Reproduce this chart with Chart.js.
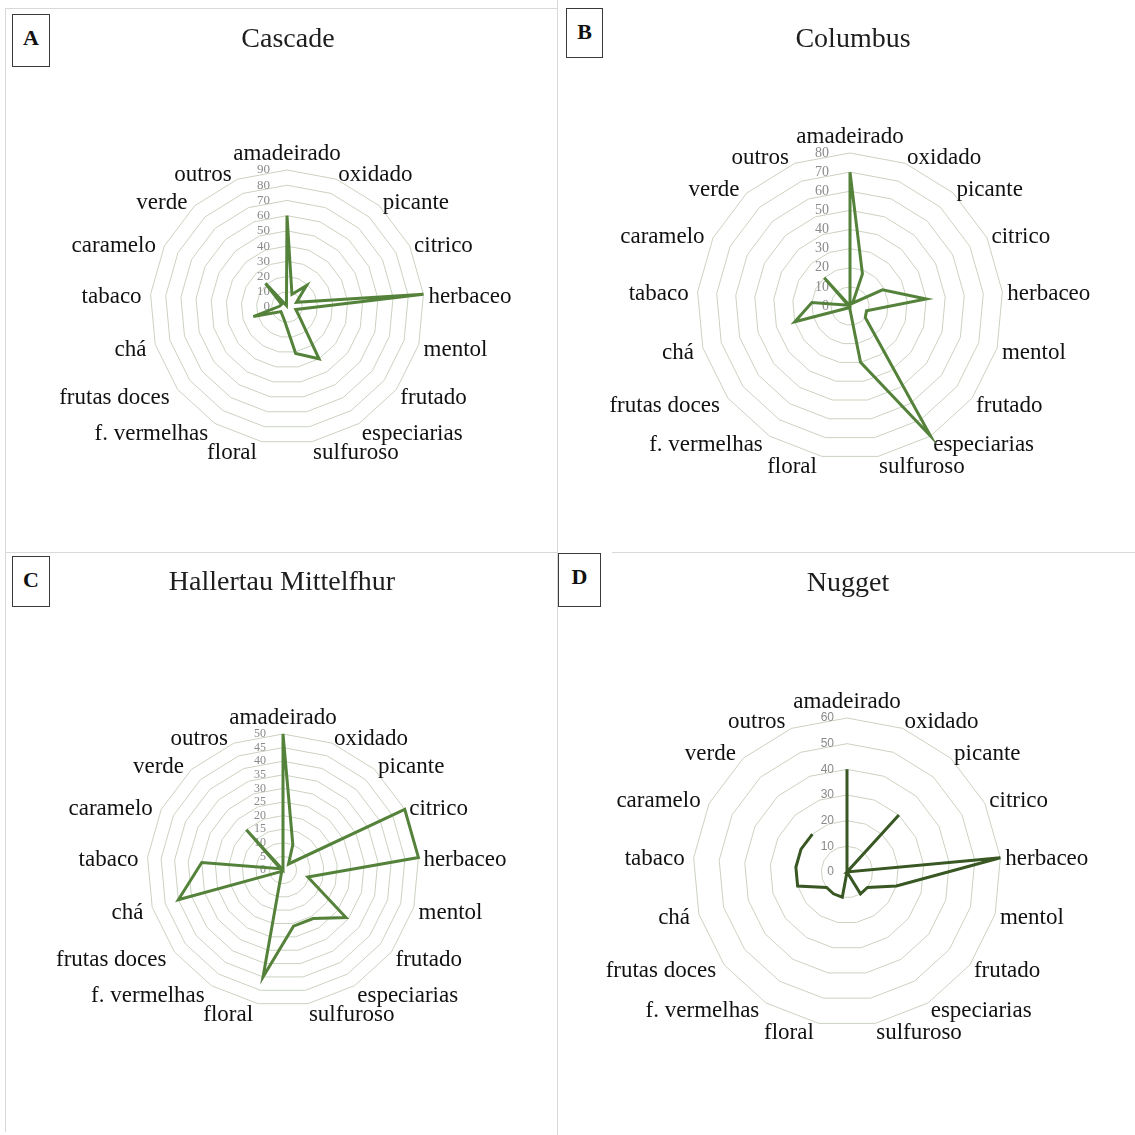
<!DOCTYPE html>
<html>
<head>
<meta charset="utf-8">
<title>Perfil aromático - lúpulos</title>
<script src="https://cdn.jsdelivr.net/npm/chart.js@4/dist/chart.umd.min.js"></script>
<style>
  body { margin: 0; width: 1135px; height: 1135px; background: #fff; position: relative; overflow: hidden; font-family: 'Liberation Serif', 'Times New Roman', serif; }
  canvas.radar { position: absolute; left: 0; top: 0; }
  .rule { position: absolute; background: #d9d9d9; }
  .tag { position: absolute; border: 1px solid #3a3a3a; box-sizing: border-box; font-weight: bold; font-size: 22px; text-align: center; padding-top: 10px; color: #111; background: #fff; }
  .title { position: absolute; font-size: 28px; transform: translate(-50%, -50%); white-space: nowrap; color: #1e1e1e; }
</style>
</head>
<body>
<div class="rule" style="left:5px; top:8px; width:552px; height:1px;"></div>
<div class="rule" style="left:5px; top:8px; width:1px; height:1124px;"></div>
<div class="rule" style="left:557px; top:0; width:1px; height:1135px;"></div>
<div class="rule" style="left:5px; top:552px; width:552px; height:1px;"></div>
<div class="rule" style="left:612px; top:552px; width:523px; height:1px;"></div>

<canvas class="radar" id="chartA" width="1135" height="1135"></canvas>
<canvas class="radar" id="chartB" width="1135" height="1135"></canvas>
<canvas class="radar" id="chartC" width="1135" height="1135"></canvas>
<canvas class="radar" id="chartD" width="1135" height="1135"></canvas>

<div class="tag" style="left:12px; top:14px; width:38px; height:53px;">A</div>
<div class="tag" style="left:566px; top:8px; width:37px; height:50px;">B</div>
<div class="tag" style="left:12px; top:556px; width:38px; height:51px;">C</div>
<div class="tag" style="left:558px; top:553px; width:43px; height:54px;">D</div>

<div class="title" style="left:288px; top:38px;">Cascade</div>
<div class="title" style="left:853px; top:38px;">Columbus</div>
<div class="title" style="left:282px; top:581px;">Hallertau Mittelfhur</div>
<div class="title" style="left:848px; top:582px;">Nugget</div>

<script>
// categorias (descritores aromáticos)
const categories = ['amadeirado', 'oxidado', 'picante', 'citrico', 'herbaceo', 'mentol', 'frutado',
    'especiarias', 'sulfuroso', 'floral', 'f. vermelhas', 'frutas doces', 'chá', 'tabaco',
    'caramelo', 'verde', 'outros'];

// valores
const cascadeValues   = [60, 9, 19, 7, 90, 6, 10, 40, 31, 9, 6, 5, 23, 5, 4, 21, 1];
const columbusValues  = [70, 18, 2, 19, 40, 9, 10, 80, 30, 1, 1, 2, 30, 20, 1, 20, 0];
const hallertauValues = [50, 10, 3, 50, 50, 9.5, 29, 21, 21, 40, 1, 1, 40, 30, 1, 20, 0];
const nuggetValues    = [40, 0, 30, 0, 60, 20, 10, 10, 0, 10, 10, 10, 20, 20, 20, 20, null];

// eixos: máximo e passo das marcas
const axisMax  = [90, 80, 50, 60];
const axisStep = [10, 10, 5, 10];

// posição e estilo de cada radar
const panels = [
    { id: 'chartA', values: cascadeValues,   cx: 287, cy: 307, r: 137, color: '#55823a', tickFont: '13px "Liberation Serif"', tickGap: 17, nudge: 0 },
    { id: 'chartB', values: columbusValues,  cx: 850, cy: 306, r: 153, color: '#55823a', tickFont: '14px "Liberation Serif"', tickGap: 21, nudge: -1 },
    { id: 'chartC', values: hallertauValues, cx: 283, cy: 870, r: 136, color: '#55823a', tickFont: '12px "Liberation Serif"', tickGap: 17, nudge: 0 },
    { id: 'chartD', values: nuggetValues,    cx: 847, cy: 872, r: 154, color: '#385723', tickFont: '12px "Liberation Sans"', tickGap: 13, nudge: -2 },
];

const LABEL_SIZE = 23;

// desenha as marcas e os rótulos no estilo do Excel
const excelLabels = {
    id: 'excelLabels',
    beforeDatasetsDraw(chart, args, opts) {
        const scale = chart.scales.r;
        const ctx = chart.ctx;
        ctx.save();
        ctx.font = opts.tickFont;
        ctx.fillStyle = '#8a8a8a';
        ctx.textAlign = 'right';
        ctx.textBaseline = 'middle';
        scale.ticks.forEach((t) => {
            const y = scale.yCenter - scale.getDistanceFromCenterForValue(t.value);
            ctx.fillText(String(t.value), scale.xCenter - opts.tickGap, y);
        });

        ctx.font = LABEL_SIZE + 'px "Liberation Serif"';
        ctx.fillStyle = '#111';
        chart.data.labels.forEach((label, i) => {
            const a = scale.getIndexAngle(i);
            const p = scale.getPointPosition(i, scale.drawingArea + 5);
            const s = Math.sin(a);
            const c = Math.cos(a);
            const y = p.y + 3.5 - 3 * c + opts.nudge;
            if (Math.abs(s) < 0.05) {
                ctx.textAlign = 'center';
                ctx.fillText(label, p.x, p.y - c * LABEL_SIZE / 2);
            } else if (s > 0) {
                ctx.textAlign = 'left';
                ctx.fillText(label, p.x, y);
            } else {
                ctx.textAlign = 'right';
                ctx.fillText(label, p.x - 4, y);
            }
        });
        ctx.restore();
    },
};

panels.forEach((p, k) => {
    new Chart(document.getElementById(p.id), {
        type: 'radar',
        data: {
            labels: categories,
            datasets: [{
                data: p.values,
                borderColor: p.color,
                borderWidth: 3,
                pointRadius: 0,
                fill: false,
                tension: 0,
                spanGaps: false,
            }],
        },
        options: {
            responsive: false,
            animation: false,
            layout: {
                padding: { left: p.cx - p.r, right: 1135 - p.cx - p.r, top: p.cy - p.r, bottom: 1135 - p.cy - p.r },
            },
            plugins: {
                legend: { display: false },
                tooltip: { enabled: false },
                excelLabels: { tickFont: p.tickFont, tickGap: p.tickGap, nudge: p.nudge },
            },
            scales: {
                r: {
                    min: 0,
                    max: axisMax[k],
                    ticks: { stepSize: axisStep[k], display: false },
                    grid: { color: '#cad3c0', lineWidth: 1 },
                    angleLines: { display: false },
                    pointLabels: { display: false },
                },
            },
        },
        plugins: [excelLabels],
    });
});
</script>
</body>
</html>
